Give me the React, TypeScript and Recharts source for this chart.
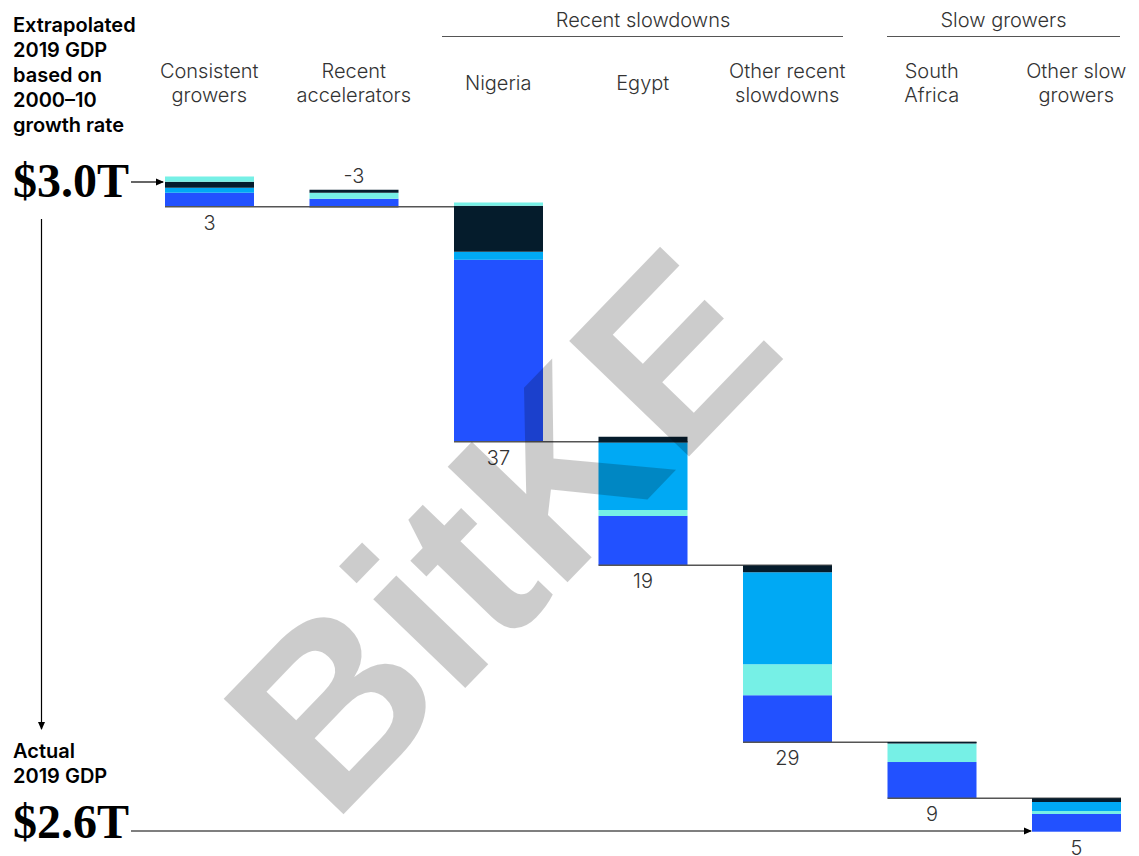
import { BarChart, Bar, XAxis, YAxis } from "recharts";

// categories and their two-line header labels
const categories = ["Consistent growers", "Recent accelerators", "Nigeria", "Egypt", "Other recent slowdowns", "South Africa", "Other slow growers"];
const categoryLines = [["Consistent", "growers"], ["Recent", "accelerators"], ["Nigeria"], ["Egypt"], ["Other recent", "slowdowns"], ["South", "Africa"], ["Other slow", "growers"]];
const valueLabels = ["3", "-3", "37", "19", "29", "9", "5"];

// waterfall levels (index units)
const base = [99.2, 99.2, 61.9, 42.3, 14.2, 5.3, 0];
const blue = [2.22, 1.27, 28.9, 7.83, 7.46, 5.76, 2.81];
const teal = [0, 0.95, 0, 0.95, 4.92, 2.94, 0.48];
const cyan = [0.79, 0, 1.27, 10.68, 14.6, 0, 1.43];
const dark = [0.95, 0.48, 7.3, 0.95, 1.06, 0.24, 0.59];
const tealTop = [0.84, 0, 0.52, 0, 0, 0, 0];

const C_DARK = "#051c2c";
const C_BLUE = "#2251ff";
const C_CYAN = "#00a9f4";
const C_TEAL = "#76f0e6";

const W = 1160;
const H = 856;
const M = { top: 130.2, right: 11.5, bottom: 24.3, left: 137 };
const STEP = (W - M.left - M.right) / categories.length;
const SANS = "Inter, 'Liberation Sans', Arial, sans-serif";
const SERIF = "'Liberation Serif', 'DejaVu Serif', serif";

const data = categories.map((name, i) => ({
  name, i,
  base: base[i], blue: blue[i], teal: teal[i], cyan: cyan[i], dark: dark[i], tealTop: tealTop[i],
}));

// bottom segment: also draws the connector line and the value label
const BlueShape = (props: any) => {
  const { x, y, width, height, payload } = props;
  const i = payload.i;
  const bottom = y + height;
  const ppu = height / blue[i];
  const stack = blue[i] + teal[i] + cyan[i] + dark[i] + tealTop[i];
  const above = valueLabels[i].startsWith("-");
  const ly = above ? bottom - stack * ppu - 7 : bottom + 23;
  return (
    <g>
      <rect x={x} y={y} width={width} height={height} fill={C_BLUE} />
      {i < categories.length - 1 && (
        <line x1={x} x2={x + width + STEP} y1={bottom} y2={bottom} stroke="#555" strokeWidth={1.5} />
      )}
      <text x={x + width / 2} y={ly} textAnchor="middle" fontSize={20} fontWeight={300} fill="#333" fontFamily={SANS}>
        {valueLabels[i]}
      </text>
    </g>
  );
};

const CategoryTick = (props: any) => {
  const { x, payload } = props;
  const lines = categoryLines[payload.index];
  const ys = lines.length === 1 ? [90] : [78, 102];
  return (
    <text textAnchor="middle" fontSize={20} fontWeight={300} fill="#333" fontFamily={SANS}>
      {lines.map((l, k) => (
        <tspan key={k} x={x} y={ys[k]}>{l}</tspan>
      ))}
    </text>
  );
};

export default function App() {
  return (
    <div style={{ position: "absolute", left: 0, top: 0, width: 1139, height: H, overflow: "hidden", background: "#fff" }}>
      <BarChart width={W} height={H} data={data} margin={M} barSize={89}>
        <XAxis dataKey="name" orientation="top" height={40} axisLine={false} tickLine={false} interval={0} tick={<CategoryTick />} />
        <YAxis type="number" domain={[0, 105]} hide />
        <Bar dataKey="base" stackId="s" fill="transparent" isAnimationActive={false} />
        <Bar dataKey="blue" stackId="s" fill={C_BLUE} shape={<BlueShape />} isAnimationActive={false} />
        <Bar dataKey="teal" stackId="s" fill={C_TEAL} isAnimationActive={false} />
        <Bar dataKey="cyan" stackId="s" fill={C_CYAN} isAnimationActive={false} />
        <Bar dataKey="dark" stackId="s" fill={C_DARK} isAnimationActive={false} />
        <Bar dataKey="tealTop" stackId="s" fill={C_TEAL} isAnimationActive={false} />
      </BarChart>
      <svg width={1139} height={H} style={{ position: "absolute", left: 0, top: 0, pointerEvents: "none" }}>
        <defs>
          <marker id="ah" markerWidth="8" markerHeight="8" refX="7" refY="4" orient="auto" markerUnits="userSpaceOnUse">
            <path d="M0,0.5 L8,4 L0,7.5 Z" fill="#000" />
          </marker>
        </defs>
        {/* group headers */}
        <text x={643} y={27} textAnchor="middle" fontSize={20} fontWeight={300} fill="#333" fontFamily={SANS}>Recent slowdowns</text>
        <line x1={442} x2={843} y1={36.5} y2={36.5} stroke="#555" strokeWidth={1} />
        <text x={1003.5} y={27} textAnchor="middle" fontSize={20} fontWeight={300} fill="#333" fontFamily={SANS}>Slow growers</text>
        <line x1={887} x2={1120} y1={36.5} y2={36.5} stroke="#555" strokeWidth={1} />

        {/* left annotations */}
        <text fontSize={20} fontWeight={600} fill="#000" fontFamily={SANS}>
          <tspan x={13} y={32}>Extrapolated</tspan>
          <tspan x={13} y={57}>2019 GDP</tspan>
          <tspan x={13} y={82}>based on</tspan>
          <tspan x={13} y={107}>2000–10</tspan>
          <tspan x={13} y={132}>growth rate</tspan>
        </text>
        <text x={13} y={197} fontSize={48} fontWeight={700} fill="#000" fontFamily={SERIF}>$3.0T</text>
        <line x1={131} x2={163} y1={182} y2={182} stroke="#000" strokeWidth={1.2} markerEnd="url(#ah)" />
        <line x1={41.5} x2={41.5} y1={219} y2={729} stroke="#000" strokeWidth={1.2} markerEnd="url(#ah)" />
        <text fontSize={20} fontWeight={600} fill="#000" fontFamily={SANS}>
          <tspan x={13} y={758}>Actual</tspan>
          <tspan x={13} y={783}>2019 GDP</tspan>
        </text>
        <text x={13} y={838} fontSize={48} fontWeight={700} fill="#000" fontFamily={SERIF}>$2.6T</text>
        <line x1={131} x2={1031} y1={831} y2={831} stroke="#000" strokeWidth={1.2} markerEnd="url(#ah)" />

        {/* watermark */}
        <text x={561} y={589} textAnchor="middle" transform="rotate(-46 561 589)"
          fontSize={242} fontWeight={700} fill="#000" fillOpacity={0.2} fontFamily="'Liberation Sans', Arial, sans-serif">
          BitKE
        </text>
      </svg>
    </div>
  );
}
